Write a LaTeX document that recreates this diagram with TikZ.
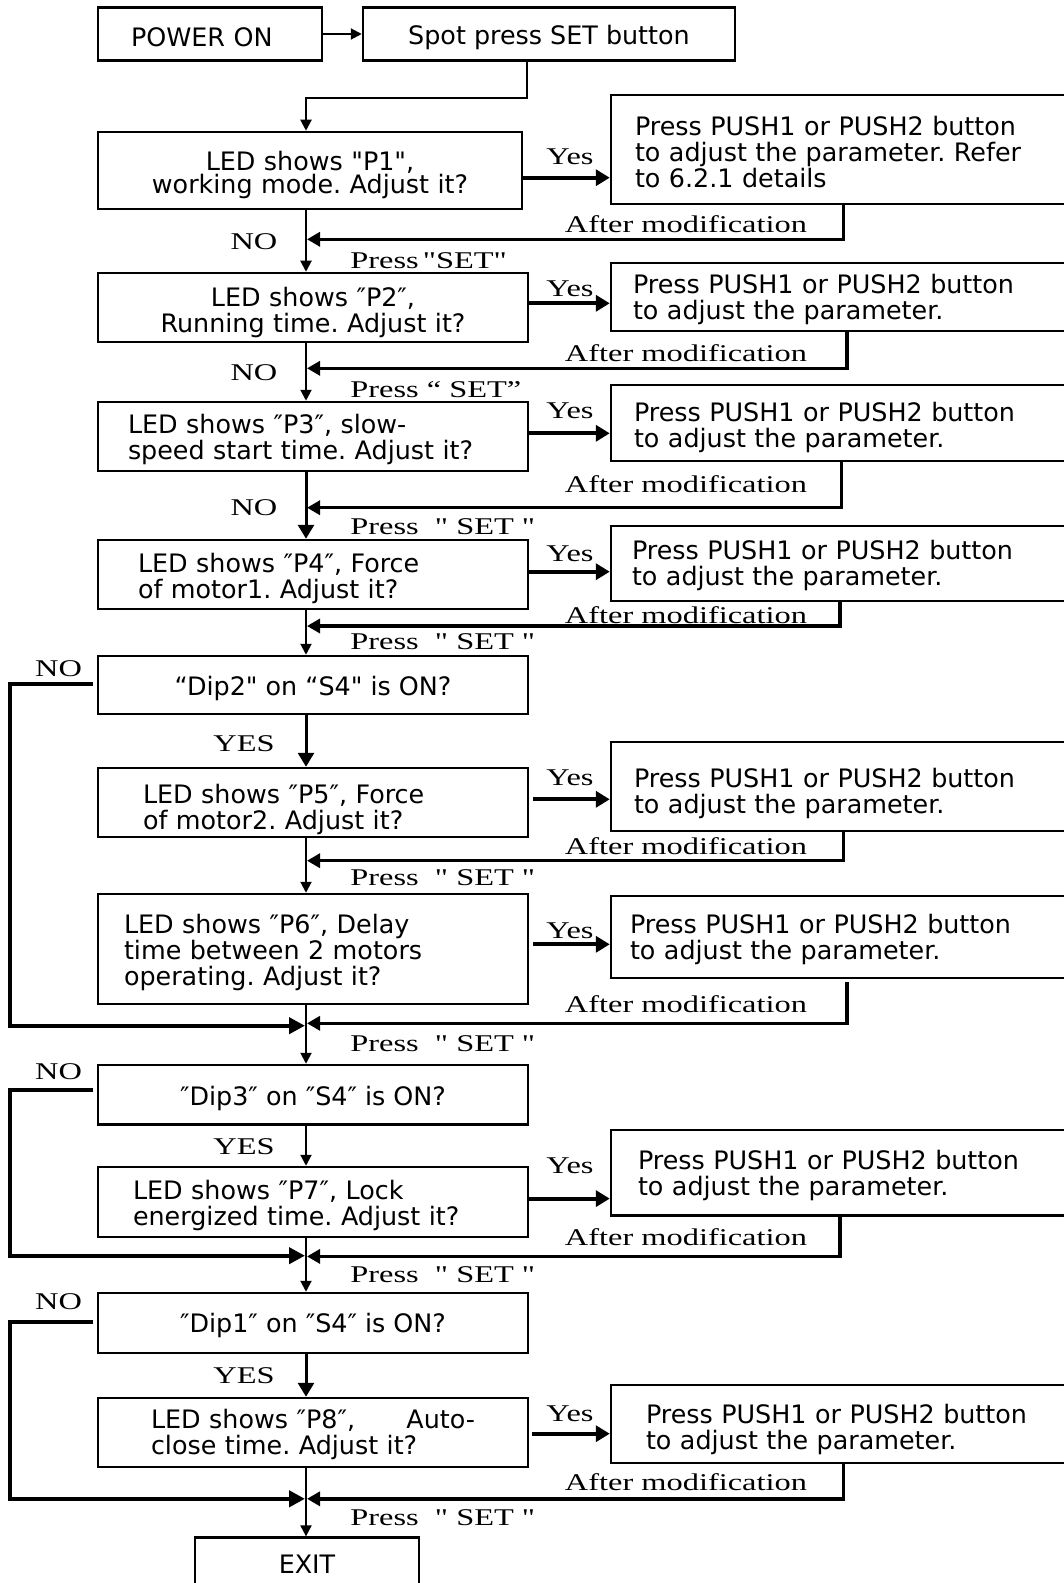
\documentclass[tikz,border=0pt]{standalone}
\usepackage{fontspec}
\usetikzlibrary{arrows.meta}
\newfontfamily\boxfont{DejaVu Sans}
\newfontfamily\lblfont[FakeStretch=1.35]{Liberation Serif}
\frenchspacing
% height of the invisible strut that sets the first text line in a box
\def\boxstrut{13pt}

\begin{document}
\begin{tikzpicture}[x=0.5pt,y=-0.5pt,
  lift/.code={\def\boxstrut{#1}},
  box/.style={draw, line width=1.25pt, inner ysep=0pt,
    font={\boxfont\fontsize{12.7pt}{13pt}\selectfont},
    execute at begin node={\rule{0pt}{\boxstrut}}},
  cbox/.style={box, align=center, minimum width=215pt},
  lbox/.style={box, align=left, minimum width=215pt},
  rbox/.style={box, align=left, minimum width=234.5pt},
  lbl/.style={inner sep=0pt, font={\lblfont\fontsize{12pt}{12pt}\selectfont}},
  flow/.style={line width=1pt, -{Triangle[length=5.5pt,width=5.5pt]}},
  flowthick/.style={line width=1.5pt, -{Triangle[length=7pt,width=8pt]}},
  yesarrow/.style={line width=2pt, -{Triangle[length=7pt,width=8pt]}},
  backline/.style={line width=1.7pt, -{Triangle[length=6.5pt,width=7pt]}},
  noline/.style={line width=2pt, shorten <=2pt, -{Triangle[length=8pt,width=8pt]}}
]
\useasboundingbox (0,0) rectangle (1064,1583);
\fill[white] (0,0) rectangle (1064,1583);
\clip (0,0) rectangle (1064,1583);

% start
\node[box, align=left, minimum width=112pt, minimum height=26.7pt,
      inner xsep=16.5pt, text width=79pt, lift=12.7pt] (power) at (210,34) {POWER ON};
\node[box, align=center, minimum width=186pt, minimum height=26.7pt, lift=12.7pt]
      (spot) at (549,34) {Spot press SET button};

% parameter boxes of the main column
\node[box, align=center, minimum width=212pt, minimum height=38.5pt,
      inner xsep=6pt, text width=200pt,
      font={\boxfont\fontsize{12.7pt}{11.6pt}\selectfont\lineskiplimit=-6pt\relax},
      lift=14.4pt]
      (p1) at (310,170.5) {LED shows "P1",\\working mode. Adjust it?};
\node[cbox, inner xsep=6pt, text width=203pt, minimum height=34.5pt, lift=14.6pt]
      (p2) at (313,307.5) {LED shows ″P2″,\\Running time. Adjust it?};
\node[lbox, inner xsep=15pt, text width=185pt, minimum height=34.5pt, lift=12.6pt]
      (p3) at (313,436.5) {LED shows ″P3″, slow-\\speed start time. Adjust it?};
\node[lbox, inner xsep=20pt, text width=175pt, minimum height=34.5pt, lift=13.6pt]
      (p4) at (313,574.5) {LED shows ″P4″, Force\\of motor1. Adjust it?};
\node[cbox, minimum height=29pt, lift=13.6pt] (dip2) at (313,685)
      {“Dip2" on “S4" is ON?};
\node[lbox, inner xsep=22.5pt, text width=170pt, minimum height=34.5pt, lift=17.1pt]
      (p5) at (313,802.5) {LED shows ″P5″, Force\\of motor2. Adjust it?};
\node[lbox, inner xsep=13pt, text width=189pt, minimum height=55pt, lift=13.6pt]
      (p6) at (313,949) {LED shows ″P6″, Delay\\time between 2 motors\\operating. Adjust it?};
\node[cbox, minimum height=29.75pt, lift=13.6pt] (dip3) at (313,1094.75)
      {″Dip3″ on ″S4″ is ON?};
\node[lbox, inner xsep=17.5pt, text width=180pt, minimum height=35pt, lift=13.6pt]
      (p7) at (313,1202) {LED shows ″P7″, Lock\\energized time. Adjust it?};
\node[cbox, minimum height=30pt, lift=12.6pt] (dip1) at (313,1323)
      {″Dip1″ on ″S4″ is ON?};
\node[lbox, inner xsep=26.5pt, text width=162pt, minimum height=34.5pt, lift=12.1pt]
      (p8) at (313,1432.5) {LED shows ″P8″,\hfill Auto-\\close time. Adjust it?};
\node[box, align=center, minimum width=112pt, minimum height=26.4pt, lift=0pt]
      (exit) at (307,1564) {EXIT};

% adjustment boxes
\node[rbox, inner xsep=12pt, text width=210.5pt, minimum height=54.5pt, lift=12.6pt]
      (r1) at (845.5,149.5) {Press PUSH1 or PUSH2 button\\to adjust the parameter. Refer\\to 6.2.1 details};
\node[rbox, inner xsep=11pt, text width=212.5pt, minimum height=34pt, lift=12.6pt]
      (r2) at (845.5,297) {Press PUSH1 or PUSH2 button\\to adjust the parameter.};
\node[rbox, inner xsep=11.5pt, text width=211.5pt, minimum height=38pt, lift=14.6pt]
      (r3) at (845.5,423) {Press PUSH1 or PUSH2 button\\to adjust the parameter.};
\node[rbox, inner xsep=10.5pt, text width=213.5pt, minimum height=37.5pt, lift=11.6pt]
      (r4) at (845.5,563.5) {Press PUSH1 or PUSH2 button\\to adjust the parameter.};
\node[rbox, inner xsep=11.5pt, text width=211.5pt, minimum height=44.5pt, lift=16.6pt]
      (r5) at (845.5,786.5) {Press PUSH1 or PUSH2 button\\to adjust the parameter.};
\node[rbox, inner xsep=9.5pt, text width=215.5pt, minimum height=41pt, lift=12.6pt]
      (r6) at (845.5,937) {Press PUSH1 or PUSH2 button\\to adjust the parameter.};
\node[rbox, inner xsep=13.5pt, text width=207.5pt, minimum height=42.75pt, lift=12.6pt]
      (r7) at (845.5,1172.75) {Press PUSH1 or PUSH2 button\\to adjust the parameter.};
\node[rbox, inner xsep=17.5pt, text width=199.5pt, minimum height=39pt, lift=15.6pt]
      (r8) at (845.5,1424) {Press PUSH1 or PUSH2 button\\to adjust the parameter.};

% junction points on the main column
\coordinate (col) at (306,0);
\coordinate (j1) at (307,239.3);
\coordinate (j2) at (307,368.3);
\coordinate (j3) at (307,507.7);
\coordinate (j4) at (307,626);
\coordinate (j5) at (307,860.7);
\coordinate (j6) at (307,1023.3);
\coordinate (j7) at (307,1256.4);
\coordinate (j8) at (307,1498.8);
\coordinate (k2) at (305,1025.7);
\coordinate (k3) at (305,1255.7);
\coordinate (k1) at (305,1498.8);
\coordinate (left) at (10,0);

% main flow
\draw[flow] (power) -- (spot);
\draw[flow] (spot.south -| 527,0) |- (306,97.7) -- (p1.north -| col);
\draw[flow] (p1.south -| col) -- (p2.north -| col);
\draw[flow] (p2.south -| col) -- (p3.north -| col);
\draw[flowthick] (p3.south -| col) -- (p4.north -| col);
\draw[flow] (p4.south -| col) -- (dip2.north -| col);
\draw[flowthick] (dip2.south -| col) -- (p5.north -| col);
\draw[flow] (p5.south -| col) -- (p6.north -| col);
\draw[flow] (p6.south -| col) -- (dip3.north -| col);
\draw[flow] (dip3.south -| col) -- (p7.north -| col);
\draw[flow] (p7.south -| col) -- (dip1.north -| col);
\draw[flowthick] (dip1.south -| col) -- (p8.north -| col);
\draw[flow] (p8.south -| col) -- (exit.north -| col);

% Yes branches
\draw[yesarrow] (p1.east |- 0,177.7) -- (r1.west |- 0,177.7);
\draw[yesarrow] (p2.east |- 0,303.3) -- (r2.west |- 0,303.3);
\draw[yesarrow] (p3.east |- 0,433.3) -- (r3.west |- 0,433.3);
\draw[yesarrow] (p4.east |- 0,571.7) -- (r4.west |- 0,571.7);
\draw[yesarrow, shorten <=2pt] (p5.east |- 0,799.3) -- (r5.west |- 0,799.3);
\draw[yesarrow, shorten <=2pt] (p6.east |- 0,944.3) -- (r6.west |- 0,944.3);
\draw[yesarrow] (p7.east |- 0,1198.6) -- (r7.west |- 0,1198.6);
\draw[yesarrow, shorten <=1.5pt] (p8.east |- 0,1433.7) -- (r8.west |- 0,1433.7);

% returns after modification
\draw[backline] (r1.south -| 843.5,0) |- (j1);
\draw[backline] (r2.south -| 846.8,0) |- (j2);
\draw[backline] (r3.south -| 841.4,0) |- (j3);
\draw[backline] (r4.south -| 840,0) |- (j4);
\draw[backline] (r5.south -| 843.5,0) |- (j5);
\draw[backline] ([yshift=-1.5pt]r6.south -| 846.8,0) |- (j6);
\draw[backline] (r7.south -| 840,0) |- (j7);
\draw[backline] (r8.south -| 843.5,0) |- (j8);

% NO bypasses on the left
\draw[noline] (dip2.west |- 0,684.3) -| (left |- k2) -- (k2);
\draw[noline] (dip3.west |- 0,1090.2) -| (left |- k3) -- (k3);
\draw[noline] (dip1.west |- 0,1322.2) -| (left |- k1) -- (k1);

% labels
\foreach \y [count=\i] in {156.5,289,411,554,778,931,1166,1414}
  \node[lbl] (yes\i) at (570,\y) {Yes};
\foreach \y [count=\i] in {224,353,484.6,615,846,1004.5,1236.7,1482}
  \node[lbl] (after\i) at (686,\y) {After modification};
\node[lbl, anchor=west] (press1) at (350,260.5) {Press\,"SET"};
\node[lbl, anchor=west] (press2) at (350,389.7) {Press “ SET”};
\foreach \y [count=\i from 3] in {527,642,878,1044,1275,1518}
  \node[lbl, anchor=west] (press\i) at (350,\y) {Press\ \ " SET "};
\foreach \y [count=\i] in {242,372.5,508}
  \node[lbl] (no\i) at (254,\y) {NO};
\foreach \y [count=\i] in {669,1072,1302}
  \node[lbl] (noleft\i) at (58.6,\y) {NO};
\foreach \y [count=\i] in {744,1147,1376}
  \node[lbl] (yesdip\i) at (244,\y) {YES};
\end{tikzpicture}
\end{document}
